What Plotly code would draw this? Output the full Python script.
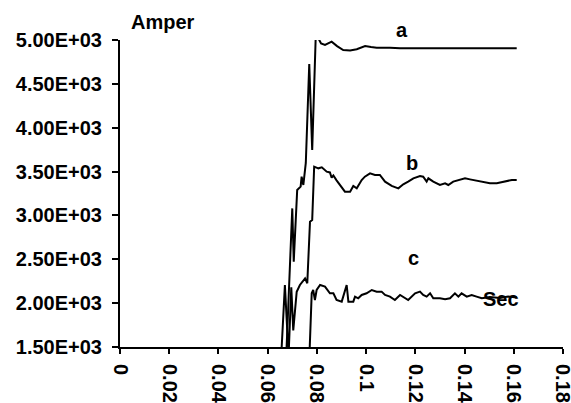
import plotly.graph_objects as go

# ---- data (seconds, amperes) ----
t_a = [0.0, 0.0676, 0.0677, 0.0700, 0.0706, 0.0720, 0.0734, 0.0738, 0.0745, 0.0755,
       0.0769, 0.0781, 0.0796, 0.0806, 0.0817, 0.0833, 0.0860, 0.0882, 0.0907, 0.0935,
       0.0962, 0.0996, 0.1020, 0.1043, 0.1097, 0.1138, 0.1219, 0.1341, 0.1463, 0.1612]
i_a = [0, 0, 1500, 3080, 2473, 3290, 3328, 3442, 3347, 3598,
       4726, 3746, 5100, 5020, 4960, 4943, 4981, 4930, 4886, 4880,
       4894, 4932, 4920, 4912, 4912, 4905, 4905, 4905, 4905, 4905]

t_b = [0.0, 0.0656, 0.0657, 0.0670, 0.0685, 0.0696, 0.0704, 0.0718, 0.0731, 0.0752,
       0.0761, 0.0772, 0.0781, 0.0789, 0.0806, 0.0820, 0.0840, 0.0853, 0.0860, 0.0867,
       0.0880, 0.0894, 0.0914, 0.0935, 0.0948, 0.0962, 0.0982, 0.0995, 0.1016, 0.1036,
       0.1056, 0.1077, 0.1104, 0.1131, 0.1151, 0.1171, 0.1192, 0.1219, 0.1232, 0.1246,
       0.1253, 0.1273, 0.1300, 0.1321, 0.1334, 0.1354, 0.1381, 0.1402, 0.1422, 0.1449,
       0.1476, 0.1503, 0.1531, 0.1557, 0.1578, 0.1592, 0.1612]
i_b = [0, 0, 1500, 2207, 1400, 2180, 1690, 2130, 2207, 2283,
       2226, 2929, 2948, 3556, 3537, 3549, 3499, 3490, 3430, 3455,
       3400, 3347, 3271, 3271, 3336, 3309, 3404, 3442, 3480, 3461,
       3461, 3385, 3336, 3309, 3355, 3385, 3423, 3450, 3442, 3385,
       3423, 3385, 3347, 3366, 3347, 3385, 3404, 3423, 3411, 3396,
       3373, 3366, 3366, 3385, 3396, 3404, 3404]

t_c = [0.0, 0.0770, 0.0771, 0.0779, 0.0785, 0.0792, 0.0799, 0.0813, 0.0833, 0.0846,
       0.0853, 0.0867, 0.0880, 0.0901, 0.0910, 0.0921, 0.0928, 0.0948, 0.0955, 0.0968,
       0.0982, 0.1002, 0.1023, 0.1043, 0.1063, 0.1077, 0.1097, 0.1117, 0.1138, 0.1151,
       0.1171, 0.1199, 0.1219, 0.1232, 0.1246, 0.1260, 0.1273, 0.1300, 0.1321, 0.1341,
       0.1361, 0.1375, 0.1388, 0.1409, 0.1429, 0.1449, 0.1470, 0.1503, 0.1544, 0.1577,
       0.1612]
i_c = [0, 0, 1500, 2112, 2150, 2036, 2150, 2207, 2188, 2131,
       2112, 2112, 2036, 2017, 2100, 2207, 2017, 2017, 2074, 2055,
       2093, 2112, 2150, 2131, 2131, 2093, 2074, 2036, 2093, 2074,
       2036, 2112, 2131, 2093, 2074, 2112, 2055, 2055, 2045, 2055,
       2112, 2074, 2112, 2074, 2093, 2074, 2055, 2070, 2060, 2075,
       2065]

x_ticks = [0, 0.02, 0.04, 0.06, 0.08, 0.1, 0.12, 0.14, 0.16, 0.18]
x_tick_labels = ["0", "0.02", "0.04", "0.06", "0.08", "0.1", "0.12", "0.14", "0.16", "0.18"]
y_ticks = [1500, 2000, 2500, 3000, 3500, 4000, 4500, 5000]
y_tick_labels = ["1.50E+03", "2.00E+03", "2.50E+03", "3.00E+03",
                 "3.50E+03", "4.00E+03", "4.50E+03", "5.00E+03"]

FONT = "Arial, Liberation Sans, sans-serif"
FS = 20

fig = go.Figure()
for t, i in [(t_a, i_a), (t_b, i_b), (t_c, i_c)]:
    fig.add_trace(go.Scatter(x=t, y=i, mode="lines",
                             line=dict(color="black", width=2),
                             showlegend=False, hoverinfo="skip"))

fig.update_layout(
    width=571, height=403,
    margin=dict(l=120, r=8, t=40, b=56),
    paper_bgcolor="white", plot_bgcolor="white",
    font=dict(family=FONT, size=FS, color="black", weight="bold"),
)
fig.update_xaxes(range=[0, 0.18001], tickvals=x_ticks, ticktext=x_tick_labels, tickangle=90,
                 showgrid=False, zeroline=False, automargin=False,
                 showline=True, linecolor="black", linewidth=2,
                 ticks="outside", ticklen=5, tickwidth=2, tickcolor="black",
                 ticklabelstandoff=6, ticklabeloverflow="allow",
                 tickfont=dict(family=FONT, size=FS, color="black", weight="bold"))
fig.update_yaxes(range=[1500, 5000], tickvals=y_ticks, ticktext=y_tick_labels,
                 showgrid=False, zeroline=False, automargin=False,
                 showline=True, linecolor="black", linewidth=2,
                 ticks="outside", ticklen=6, tickwidth=2, tickcolor="black",
                 ticklabelstandoff=6, ticklabeloverflow="allow",
                 tickfont=dict(family=FONT, size=FS, color="black", weight="bold"))

ann_font = dict(family=FONT, size=FS, color="black", weight="bold")
fig.add_annotation(text="Amper", xref="paper", yref="paper", x=0.021, y=1.0586,
                   xanchor="left", yanchor="middle", showarrow=False, font=ann_font)
fig.add_annotation(text="a", xref="x", yref="paper", x=0.1145, y=1.033,
                   xanchor="center", yanchor="middle", showarrow=False, font=ann_font)
fig.add_annotation(text="b", xref="x", yref="y", x=0.1186, y=3598,
                   xanchor="center", yanchor="middle", showarrow=False, font=ann_font)
fig.add_annotation(text="c", xref="x", yref="y", x=0.1194, y=2515,
                   xanchor="center", yanchor="middle", showarrow=False, font=ann_font)
fig.add_annotation(text="Sec", xref="x", yref="y", x=0.1548, y=2042,
                   xanchor="center", yanchor="middle", showarrow=False, font=ann_font)

fig.write_html("out.html", config={"displayModeBar": False},
               post_script="document.body.style.margin='0';document.body.style.padding='0';")
